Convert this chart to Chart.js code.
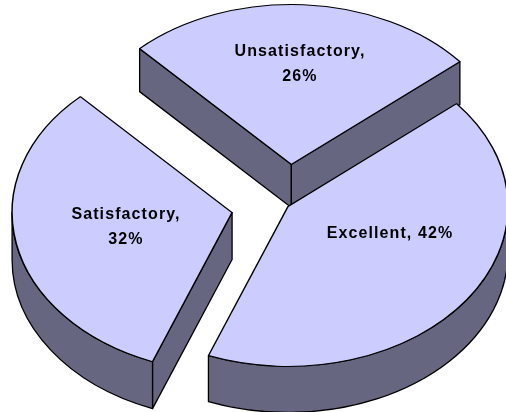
<!DOCTYPE html>
<html>
<head>
<meta charset="utf-8">
<style>html,body{margin:0;padding:0;background:#fff}canvas{display:block}</style>
<script src="https://cdn.jsdelivr.net/npm/chart.js@4"></script>
</head>
<body>
<canvas id="c" width="506" height="412"></canvas>
<script>
const categories = ['Excellent', 'Satisfactory', 'Unsatisfactory'];
const shares = [42, 32, 26];
const explode = [0, 57, 60];
const lift = [-1.5, -3.5, 0];
const wallDepth = [46, 47, 43];
const paintOrder = [2, 1, 0];
const labelLines = [['Excellent, 42%'], ['Satisfactory,', '32%'], ['Unsatisfactory,', '26%']];
const labelCentres = [[390, 233.5], [126, 227], [300, 64]];

const tilt = 0.727;
const topColor = '#CCCCFF', wallColor = '#666680', edgeColor = '#000000';

const pie3d = {
  id: 'pie3d',
  beforeDatasetDraw(chart, args) {
    const ctx = chart.ctx;
    const arcs = chart.getDatasetMeta(args.index).data;
    for (const i of paintOrder) {
      const a = arcs[i];
      const depth = wallDepth[i];
      const mid = (a.startAngle + a.endAngle) / 2;
      const ox = Math.cos(mid) * explode[i], oy = Math.sin(mid) * explode[i];
      const X = a.x + ox, Y = a.y + oy * tilt + lift[i], r = a.outerRadius, ry = r * tilt;
      const px = t => X + r * Math.cos(t), py = t => Y + ry * Math.sin(t);

      ctx.save();
      ctx.fillStyle = wallColor;
      ctx.strokeStyle = edgeColor;
      ctx.lineWidth = 1.3;
      ctx.lineJoin = 'round';
      const cutWalls = [];
      if (Math.cos(a.startAngle) < 0) cutWalls.push(a.startAngle);
      if (Math.cos(a.endAngle) > 0) cutWalls.push(a.endAngle);
      for (const t of cutWalls) {
        ctx.beginPath();
        ctx.moveTo(X, Y);
        ctx.lineTo(px(t), py(t));
        ctx.lineTo(px(t), py(t) + depth);
        ctx.lineTo(X, Y + depth);
        ctx.closePath();
        ctx.fill();
        ctx.stroke();
      }
      const from = Math.max(a.startAngle, 0), to = Math.min(a.endAngle, Math.PI);
      if (to > from) {
        ctx.beginPath();
        ctx.ellipse(X, Y, r, ry, 0, from, to);
        ctx.ellipse(X, Y + depth, r, ry, 0, to, from, true);
        ctx.closePath();
        ctx.fill();
        ctx.stroke();
      }
      ctx.restore();

      ctx.save();
      ctx.translate(X, Y);
      ctx.scale(1, tilt);
      ctx.translate(-a.x, -a.y);
      a.draw(ctx);
      ctx.restore();
    }
    ctx.save();
    ctx.fillStyle = '#000';
    ctx.font = 'bold 16px "Liberation Sans", Arial, sans-serif';
    ctx.letterSpacing = '1.1px';
    ctx.textAlign = 'center';
    ctx.textBaseline = 'middle';
    labelLines.forEach((lines, i) => {
      const [x, y] = labelCentres[i];
      lines.forEach((s, j) => ctx.fillText(s, x, y + (j - (lines.length - 1) / 2) * 25));
    });
    ctx.restore();
    return false;
  }
};

new Chart(document.getElementById('c'), {
  type: 'pie',
  data: {
    labels: categories,
    datasets: [{
      data: shares,
      backgroundColor: topColor,
      borderColor: edgeColor,
      borderWidth: 1.5,
      offset: 0
    }]
  },
  options: {
    responsive: false,
    animation: false,
    rotation: 50,
    radius: 220,
    layout: { padding: { left: 70, top: 4 } },
    plugins: { legend: { display: false }, tooltip: { enabled: false }, title: { display: false } }
  },
  plugins: [pie3d]
});
</script>
</body>
</html>
